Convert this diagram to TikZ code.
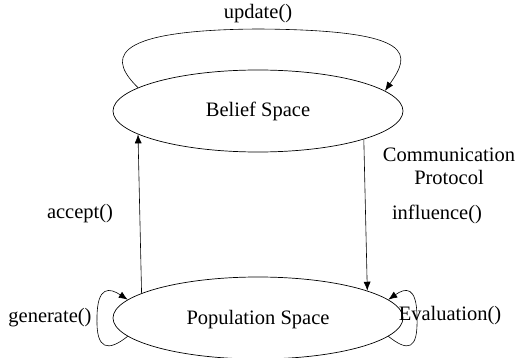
\documentclass[tikz,border=0pt]{standalone}
\usepackage{fontspec}
\setmainfont{Liberation Serif}
\usetikzlibrary{shapes.geometric,arrows.meta}
\tikzset{
  space/.style={draw, ellipse, minimum width=290pt, minimum height=82pt, inner sep=0pt, line width=0.7pt},
  lbl/.style={font=\fontsize{20.5}{23}\selectfont, inner sep=0pt, align=center},
  flow/.style={line width=0.6pt, -{Latex[length=9pt,width=7pt]}}
}
\begin{document}
\begin{tikzpicture}[x=1pt,y=-1pt]
\useasboundingbox (0,0) rectangle (516,358);

\node[space] (belief) at (258,111) {};
\node[lbl] (beliefTxt) at (258,111) {Belief Space};
\node[space] (pop) at (258,318) {};
\node[lbl] (popTxt) at (258,320) {Population Space};

% self loops
\draw[flow] (belief.169) .. controls (112,62) and (100,30) .. (258,29)
  .. controls (420,30) and (410,55) .. (belief.9);
\draw[flow] (pop.188) .. controls (108,352) and (96,350) .. (97,318)
  .. controls (97,285) and (110,288) .. (pop.172);
\draw[flow] (pop.352) .. controls (408,352) and (418,350) .. (417,318)
  .. controls (417,285) and (405,288) .. (pop.8);

% communication between the two spaces
\draw[flow] (pop.168.6) -- (belief.191.4);
\draw[flow] (belief.345.5) -- (pop.14.5);

\node[lbl] (update) at (258,14) {update()};
\node[lbl] (accept) at (80,214) {accept()};
\node[lbl] (influence) at (437,214) {influence()};
\node[lbl] (comm) at (449,166) {Communication\\Protocol};
\node[lbl] (generate) at (50,318) {generate()};
\node[lbl] (eval) at (450,316) {Evaluation()};
\end{tikzpicture}
\end{document}
